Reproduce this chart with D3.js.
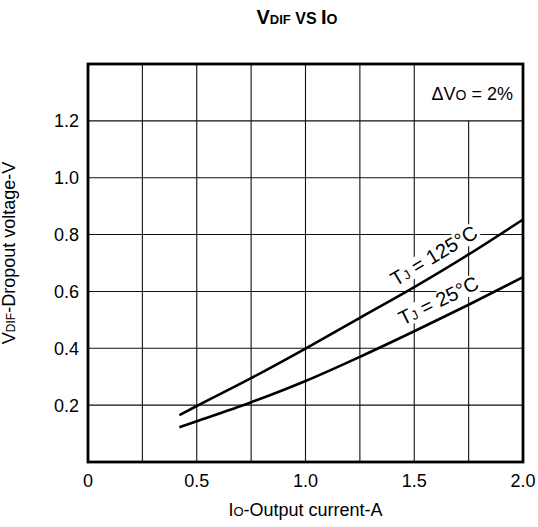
<!DOCTYPE html>
<html>
<head>
<meta charset="utf-8">
<script src="https://cdn.jsdelivr.net/npm/d3@7"></script>
<style>
  body { margin: 0; background: #fff; }
  text { font-family: "Liberation Sans", Arial, sans-serif; fill: #000; }
</style>
</head>
<body>
<div id="chart"></div>
<script>
// values
const currentA = [0.42, 0.5, 0.75, 1.0, 1.25, 1.5, 1.75, 2.0];
const vdif125 = [0.165, 0.197, 0.295, 0.399, 0.507, 0.615, 0.73, 0.853];
const vdif25 = [0.122, 0.143, 0.21, 0.285, 0.37, 0.46, 0.553, 0.65];
const xTicks = [0, 0.5, 1.0, 1.5, 2.0];
const yTicks = [0.2, 0.4, 0.6, 0.8, 1.0, 1.2];
const xGrid = [0.25, 0.5, 0.75, 1.0, 1.25, 1.5, 1.75];
const yGrid = [0.2, 0.4, 0.6, 0.8, 1.0, 1.2];

const W = 538, H = 527;
const m = {top: 64, right: 15, bottom: 65, left: 88};

const svg = d3.select('#chart').append('svg').attr('width', W).attr('height', H);

const x = d3.scaleLinear().domain([0, 2]).range([m.left, W - m.right]);
const y = d3.scaleLinear().domain([0, 1.4]).range([H - m.bottom, m.top]);

// grid
svg.append('g').selectAll('line').data(xGrid).join('line')
	.attr('x1', d => x(d)).attr('x2', d => x(d))
	.attr('y1', y(0))
	.attr('y2', d => d > 1.5 ? y(1.2) : y(1.4))   // label box in top right cell
	.attr('stroke', '#111').attr('stroke-width', 1.1);
svg.append('g').selectAll('line').data(yGrid).join('line')
	.attr('x1', x(0)).attr('x2', x(2))
	.attr('y1', d => y(d)).attr('y2', d => y(d))
	.attr('stroke', '#111').attr('stroke-width', 1.1);

// tick labels
svg.append('g').selectAll('text').data(xTicks).join('text')
	.attr('x', d => x(d)).attr('y', y(0) + 25)
	.attr('text-anchor', 'middle').attr('font-size', 18)
	.text(d => d === 0 ? '0' : d.toFixed(1));
svg.append('g').selectAll('text').data(yTicks).join('text')
	.attr('x', x(0) - 9).attr('y', d => y(d)).attr('dy', '0.36em')
	.attr('text-anchor', 'end').attr('font-size', 18)
	.text(d => d.toFixed(1));

// curves
const line = d3.line().x(d => x(d[0])).y(d => y(d[1])).curve(d3.curveMonotoneX);
const series = [
	{vals: vdif125, main: '125°C', at: 1.63},
	{vals: vdif25, main: '25°C', at: 1.645}
];
series.forEach(s => {
	const pts = currentA.map((c, i) => [c, s.vals[i]]);
	svg.append('path').datum(pts)
		.attr('fill', 'none').attr('stroke', '#000').attr('stroke-width', 2.6)
		.attr('d', line);
});

// curve labels, sitting on the curve, turned with it
series.forEach(s => {
	const i = d3.bisectLeft(currentA, s.at);
	const a = [x(currentA[i - 1]), y(s.vals[i - 1])];
	const b = [x(currentA[i]), y(s.vals[i])];
	const t = (x(s.at) - a[0]) / (b[0] - a[0]);
	const px = a[0] + t * (b[0] - a[0]);
	const py = a[1] + t * (b[1] - a[1]);
	const ang = Math.atan2(b[1] - a[1], b[0] - a[0]) * 180 / Math.PI;
	const g = svg.append('g').attr('transform', `translate(${px},${py}) rotate(${ang})`);
	const txt = g.append('text').attr('y', -10).attr('text-anchor', 'middle').attr('font-size', 20);
	txt.append('tspan').text('T');
	txt.append('tspan').attr('font-size', 13).text('J');
	txt.append('tspan').text(' = ' + s.main);
	const bb = txt.node().getBBox();
	g.insert('rect', 'text')
		.attr('x', bb.x - 2).attr('y', bb.y + 2).attr('width', bb.width + 4).attr('height', bb.height - 3)
		.attr('fill', '#fff');
});

// frame
svg.append('rect')
	.attr('x', x(0)).attr('y', y(1.4)).attr('width', x(2) - x(0)).attr('height', y(0) - y(1.4))
	.attr('fill', 'none').attr('stroke', '#000').attr('stroke-width', 2.8);

// dVo note
const note = svg.append('text').attr('x', x(2) - 10).attr('y', y(1.4) + 36)
	.attr('text-anchor', 'end').attr('font-size', 18);
note.append('tspan').text('\u0394V');
note.append('tspan').attr('font-size', 14).text('O');
note.append('tspan').text(' = 2%');

// title
const title = svg.append('text').attr('x', 297).attr('y', 24)
	.attr('text-anchor', 'middle').attr('font-weight', 'bold').attr('font-size', 20);
title.append('tspan').text('V');
title.append('tspan').attr('font-size', 13).text('DIF');
title.append('tspan').attr('font-size', 16).text(' VS ');
title.append('tspan').text('I');
title.append('tspan').attr('font-size', 14).text('O');

// axis titles
const xt = svg.append('text').attr('x', (x(0) + x(2)) / 2).attr('y', y(0) + 54)
	.attr('text-anchor', 'middle').attr('font-size', 18);
xt.append('tspan').text('I');
xt.append('tspan').attr('font-size', 13).text('O');
xt.append('tspan').text('-Output current-A');

const yt = svg.append('text')
	.attr('transform', `translate(15,${(y(0) + y(1.4)) / 2 - 10}) rotate(-90)`)
	.attr('text-anchor', 'middle').attr('font-size', 18);
yt.append('tspan').text('V');
yt.append('tspan').attr('font-size', 12).text('DIF');
yt.append('tspan').text('-Dropout voltage-V');
</script>
</body>
</html>
